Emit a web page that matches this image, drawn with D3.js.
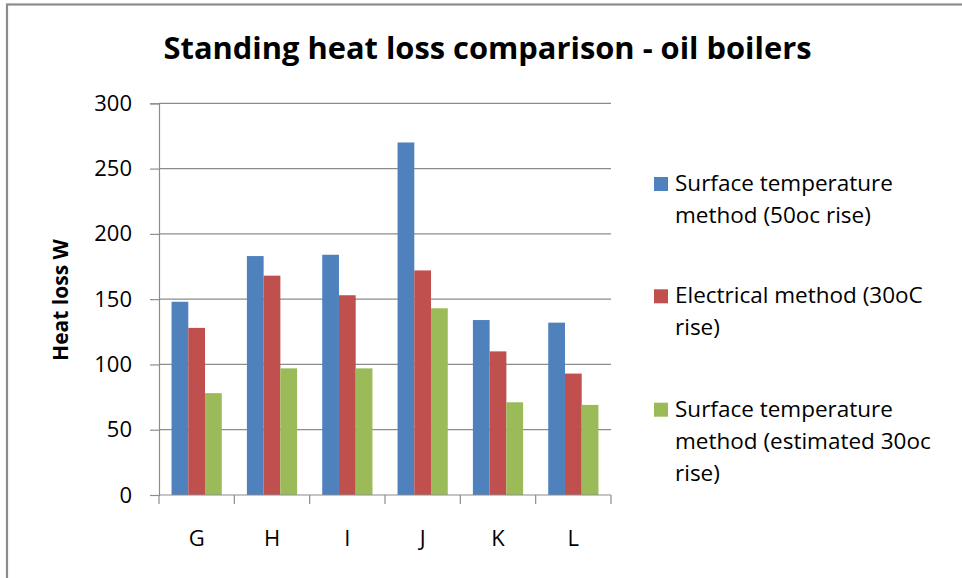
<!DOCTYPE html>
<html>
<head>
<meta charset="utf-8">
<script src="https://cdn.jsdelivr.net/npm/d3@7"></script>
<style>
  html, body { margin: 0; padding: 0; background: #ffffff; }
  svg { display: block; }
  text { font-family: "Open Sans", "Noto Sans", sans-serif; fill: #000; }
</style>
</head>
<body>
<svg id="chart" width="962" height="578"></svg>
<script>
// ---- data ----
const categories = ["G", "H", "I", "J", "K", "L"];
const seriesNames = [
  ["Surface temperature", "method (50oc rise)"],
  ["Electrical method (30oC", "rise)"],
  ["Surface temperature", "method (estimated 30oc", "rise)"]
];
const surface50 = [148, 183, 184, 270, 134, 132];
const electrical30 = [128, 168, 153, 172, 110, 93];
const surfaceEst30 = [78, 97, 97, 143, 71, 69];
const yTicks = [0, 50, 100, 150, 200, 250, 300];
const titleText = "Standing heat loss comparison - oil boilers";
const yLabel = "Heat loss W";

const seriesValues = [surface50, electrical30, surfaceEst30];
const colors = ["#4F81BD", "#C0504D", "#9BBB59"];

const svg = d3.select("#chart");
const W = 962, H = 578;
const plot = { left: 159, right: 611, top: 103.3, bottom: 495 };

// chart border (extends past right/bottom of view)
svg.append("rect")
  .attr("x", 7).attr("y", 4.5)
  .attr("width", W + 20).attr("height", H + 20)
  .attr("fill", "none").attr("stroke", "#8c8c8c").attr("stroke-width", 2.2);

// title
svg.append("text")
  .attr("x", 487.5).attr("y", 59)
  .attr("text-anchor", "middle")
  .attr("font-size", 30).attr("font-weight", "bold")
  .attr("textLength", 648).attr("lengthAdjust", "spacingAndGlyphs")
  .text(titleText);

// scales
const x = d3.scaleBand().domain(categories)
  .range([plot.left, plot.right])
  .paddingInner(1 / 3).paddingOuter(1 / 6);
const xs = d3.scaleBand().domain(d3.range(seriesValues.length))
  .range([0, x.bandwidth()]);
const y = d3.scaleLinear().domain([0, 300]).range([plot.bottom, plot.top]);

// gridlines
svg.append("g").selectAll("line").data(yTicks.filter(d => d > 0)).join("line")
  .attr("x1", plot.left).attr("x2", plot.right)
  .attr("y1", d => y(d)).attr("y2", d => y(d))
  .attr("stroke", "#8c8c8c").attr("stroke-width", 1.2);

// bars
const groups = svg.append("g").selectAll("g").data(categories).join("g")
  .attr("transform", d => `translate(${x(d)},0)`);
groups.selectAll("rect")
  .data((c, i) => seriesValues.map((s, k) => ({ k, v: s[i] })))
  .join("rect")
  .attr("x", d => xs(d.k))
  .attr("width", xs.bandwidth())
  .attr("y", d => y(d.v))
  .attr("height", d => y(0) - y(d.v))
  .attr("fill", d => colors[d.k]);

// y axis
const yAxis = d3.axisLeft(y).tickValues(yTicks).tickSize(9).tickPadding(18)
  .tickFormat(d3.format("d"));
const gy = svg.append("g").attr("transform", `translate(${plot.left},0)`).call(yAxis);
gy.select(".domain").attr("stroke", "#8c8c8c").attr("stroke-width", 1.2);
gy.selectAll(".tick line").attr("stroke", "#8c8c8c").attr("stroke-width", 1.2);
gy.selectAll(".tick text").attr("font-size", 22).attr("fill", "#000")
  .attr("font-family", "'Open Sans', sans-serif");

// x axis: line + boundary ticks
const step = x.step();
const boundaries = d3.range(categories.length + 1).map(i => plot.left + i * step);
svg.append("line")
  .attr("x1", plot.left).attr("x2", plot.right)
  .attr("y1", y(0)).attr("y2", y(0))
  .attr("stroke", "#8c8c8c").attr("stroke-width", 1.2);
svg.append("g").selectAll("line").data(boundaries).join("line")
  .attr("x1", d => d).attr("x2", d => d)
  .attr("y1", y(0)).attr("y2", y(0) + 9)
  .attr("stroke", "#8c8c8c").attr("stroke-width", 1.2);
svg.append("g").selectAll("text").data(categories).join("text")
  .attr("x", d => x(d) + x.bandwidth() / 2)
  .attr("y", 546)
  .attr("text-anchor", "middle")
  .attr("font-size", 22)
  .text(d => d);

// y label
svg.append("text")
  .attr("transform", "translate(68,300) rotate(-90)")
  .attr("text-anchor", "middle")
  .attr("font-size", 21).attr("font-weight", "bold")
  .text(yLabel);

// legend
const legendFirstBaseline = [191, 303.3, 416.7];
const lineH = 32;
const leg = svg.append("g");
seriesNames.forEach((lines, k) => {
  const b = legendFirstBaseline[k];
  leg.append("rect")
    .attr("x", 654).attr("y", b - 14)
    .attr("width", 14).attr("height", 14)
    .attr("fill", colors[k]);
  const t = leg.append("text").attr("x", 675).attr("y", b).attr("font-size", 22.5);
  lines.forEach((ln, j) => {
    t.append("tspan").attr("x", 675).attr("y", b + j * lineH).text(ln);
  });
});
</script>
</body>
</html>
